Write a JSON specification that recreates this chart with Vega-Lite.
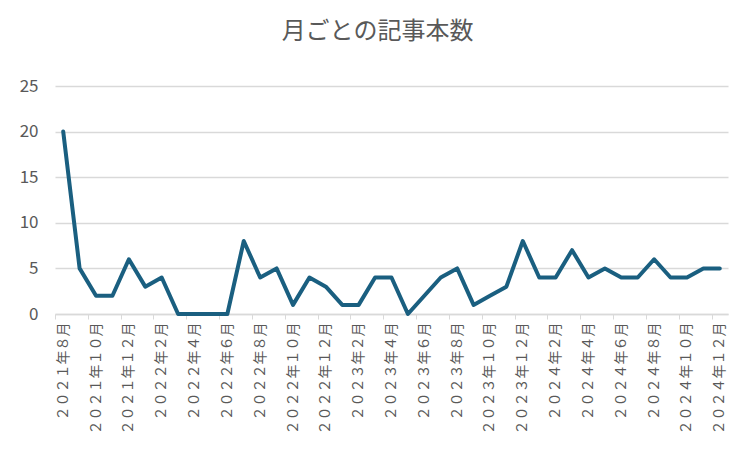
{
  "$schema": "https://vega.github.io/schema/vega-lite/v6.json",
  "width": 673,
  "height": 228,
  "autosize": {"type": "none"},
  "padding": {"left": 55, "top": 86, "right": 24, "bottom": 138},
  "background": "white",
  "title": {
    "text": "月ごとの記事本数",
    "font": "Noto Sans CJK JP",
    "fontSize": 24,
    "fontWeight": "normal",
    "color": "#595959",
    "anchor": "middle",
    "dx": -14,
    "offset": 33
  },
  "data": {
    "values": [
      {"month": "２０２１年８月", "count": 20},
      {"month": "２０２１年９月", "count": 5},
      {"month": "２０２１年１０月", "count": 2},
      {"month": "２０２１年１１月", "count": 2},
      {"month": "２０２１年１２月", "count": 6},
      {"month": "２０２２年１月", "count": 3},
      {"month": "２０２２年２月", "count": 4},
      {"month": "２０２２年３月", "count": 0},
      {"month": "２０２２年４月", "count": 0},
      {"month": "２０２２年５月", "count": 0},
      {"month": "２０２２年６月", "count": 0},
      {"month": "２０２２年７月", "count": 8},
      {"month": "２０２２年８月", "count": 4},
      {"month": "２０２２年９月", "count": 5},
      {"month": "２０２２年１０月", "count": 1},
      {"month": "２０２２年１１月", "count": 4},
      {"month": "２０２２年１２月", "count": 3},
      {"month": "２０２３年１月", "count": 1},
      {"month": "２０２３年２月", "count": 1},
      {"month": "２０２３年３月", "count": 4},
      {"month": "２０２３年４月", "count": 4},
      {"month": "２０２３年５月", "count": 0},
      {"month": "２０２３年６月", "count": 2},
      {"month": "２０２３年７月", "count": 4},
      {"month": "２０２３年８月", "count": 5},
      {"month": "２０２３年９月", "count": 1},
      {"month": "２０２３年１０月", "count": 2},
      {"month": "２０２３年１１月", "count": 3},
      {"month": "２０２３年１２月", "count": 8},
      {"month": "２０２４年１月", "count": 4},
      {"month": "２０２４年２月", "count": 4},
      {"month": "２０２４年３月", "count": 7},
      {"month": "２０２４年４月", "count": 4},
      {"month": "２０２４年５月", "count": 5},
      {"month": "２０２４年６月", "count": 4},
      {"month": "２０２４年７月", "count": 4},
      {"month": "２０２４年８月", "count": 6},
      {"month": "２０２４年９月", "count": 4},
      {"month": "２０２４年１０月", "count": 4},
      {"month": "２０２４年１１月", "count": 5},
      {"month": "２０２４年１２月", "count": 5}
    ]
  },
  "mark": {
    "type": "line",
    "color": "#1a5f80",
    "strokeWidth": 4,
    "strokeJoin": "round",
    "strokeCap": "round"
  },
  "encoding": {
    "x": {
      "field": "month",
      "type": "ordinal",
      "sort": null,
      "scale": {"type": "band", "paddingInner": 0, "paddingOuter": 0},
      "axis": {
        "title": null,
        "values": [
          "２０２１年８月", "２０２１年１０月", "２０２１年１２月",
          "２０２２年２月", "２０２２年４月", "２０２２年６月", "２０２２年８月", "２０２２年１０月", "２０２２年１２月",
          "２０２３年２月", "２０２３年４月", "２０２３年６月", "２０２３年８月", "２０２３年１０月", "２０２３年１２月",
          "２０２４年２月", "２０２４年４月", "２０２４年６月", "２０２４年８月", "２０２４年１０月", "２０２４年１２月"
        ],
        "labelAngle": -90,
        "labelAlign": "right",
        "labelBaseline": "middle",
        "labelFont": "Noto Sans CJK JP",
        "labelFontSize": 14,
        "labelColor": "#595959",
        "labelPadding": 3,
        "labelOffset": 8.2,
        "tickOffset": -8.2,
        "tickSize": 5,
        "tickColor": "#d9d9d9",
        "domainColor": "#d9d9d9",
        "domainWidth": 1.5,
        "grid": false
      }
    },
    "y": {
      "field": "count",
      "type": "quantitative",
      "scale": {"domain": [0, 25], "nice": false},
      "axis": {
        "title": null,
        "values": [0, 5, 10, 15, 20, 25],
        "domain": false,
        "ticks": false,
        "labelFont": "Noto Sans CJK JP",
        "labelFontSize": 17,
        "labelColor": "#595959",
        "labelPadding": 17,
        "gridColor": "#d9d9d9",
        "gridWidth": 1.5
      }
    }
  },
  "config": {
    "view": {"stroke": null}
  }
}
